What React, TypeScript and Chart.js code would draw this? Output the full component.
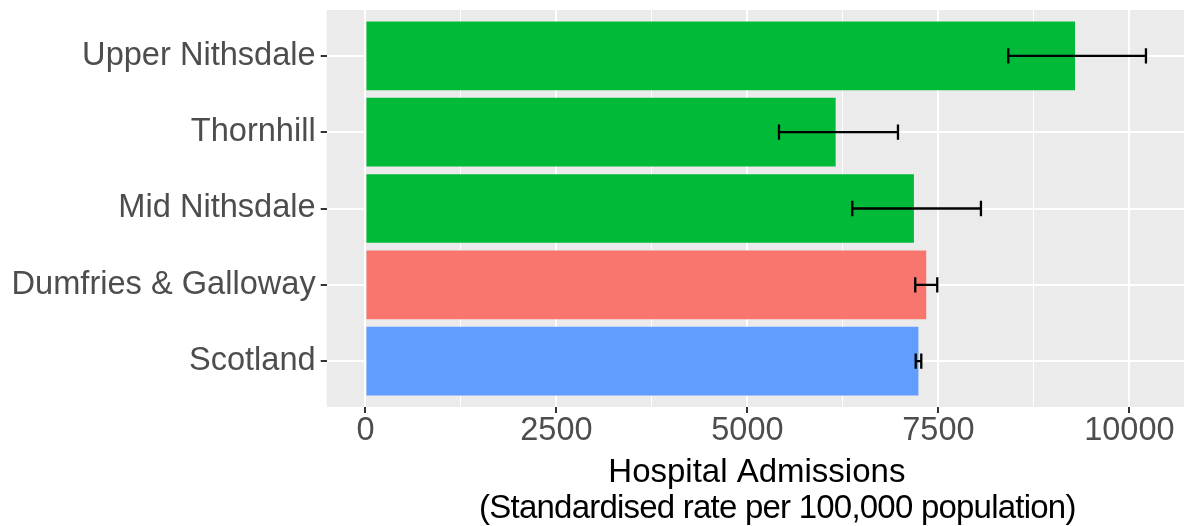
import React, { useEffect, useRef } from "react";
import { Chart, registerables } from "chart.js";

Chart.register(...registerables);

// Areas, listed top to bottom
const categories = [
  "Upper Nithsdale",
  "Thornhill",
  "Mid Nithsdale",
  "Dumfries & Galloway",
  "Scotland",
];

// Standardised admission rate per 100,000 population
const rates = [9288, 6155, 7180, 7341, 7238];
// 95% confidence limits
const lowerCI = [8415, 5413, 6373, 7197, 7203];
const upperCI = [10217, 6971, 8057, 7485, 7276];

const barColors = ["#00BA38", "#00BA38", "#00BA38", "#F8766D", "#619CFF"];

const majorTicks = [0, 2500, 5000, 7500, 10000];
const minorTicks = [1250, 3750, 6250, 8750];

const xTitle = ["Hospital Admissions", "(Standardised rate per 100,000 population)"];

const FONT = "'Liberation Sans', Arial, Helvetica, sans-serif";

const panelBackground = {
  id: "panelBackground",
  beforeDraw(chart: any) {
    const { ctx, chartArea } = chart;
    ctx.save();
    ctx.fillStyle = "#EBEBEB";
    ctx.fillRect(chartArea.left, chartArea.top, chartArea.right - chartArea.left, chartArea.bottom - chartArea.top);
    ctx.restore();
  },
};

const errorBars = {
  id: "errorBars",
  afterDatasetsDraw(chart: any) {
    const { ctx, scales } = chart;
    const xs = scales.x;
    const ys = scales.y;
    ctx.save();
    ctx.strokeStyle = "#000000";
    ctx.lineWidth = 2.3;
    categories.forEach((_, i) => {
      const yc = ys.getPixelForValue(i + 1);
      const half = Math.abs(ys.getPixelForValue(i + 1.1) - yc);
      const x0 = xs.getPixelForValue(lowerCI[i]);
      const x1 = xs.getPixelForValue(upperCI[i]);
      ctx.beginPath();
      ctx.moveTo(x0, yc);
      ctx.lineTo(x1, yc);
      ctx.moveTo(x0, yc - half);
      ctx.lineTo(x0, yc + half);
      ctx.moveTo(x1, yc - half);
      ctx.lineTo(x1, yc + half);
      ctx.stroke();
    });
    ctx.restore();
  },
};

// Two-line axis title under the x axis
const axisTitle = {
  id: "axisTitle",
  afterDraw(chart: any) {
    const { ctx, chartArea, height } = chart;
    const cx = (chartArea.left + chartArea.right) / 2;
    ctx.save();
    ctx.fillStyle = "#000000";
    ctx.font = `33px ${FONT}`;
    ctx.textAlign = "center";
    ctx.textBaseline = "alphabetic";
    ctx.fillText(xTitle[0], cx + 1.5, height - 44.5);
    (ctx as any).letterSpacing = "-0.78px";
    ctx.fillText(xTitle[1], cx + 22, height - 8);
    ctx.restore();
  },
};

export default function App() {
  const canvasRef = useRef<HTMLCanvasElement | null>(null);

  useEffect(() => {
    if (!canvasRef.current) return;
    const allX = [...majorTicks, ...minorTicks].sort((a, b) => a - b);
    const chart = new Chart(canvasRef.current, {
      type: "bar",
      data: {
        datasets: [
          {
            data: rates.map((v, i) => ({ x: v, y: i + 1 })),
            backgroundColor: barColors,
            borderWidth: 0,
            barPercentage: 0.9,
            categoryPercentage: 1,
          },
        ],
      },
      options: {
        indexAxis: "y",
        animation: false,
        responsive: false,
        devicePixelRatio: 1,
        layout: { padding: { top: 10, left: 0, right: 0, bottom: 0 } },
        plugins: {
          legend: { display: false },
          tooltip: { enabled: false },
        },
        scales: {
          x: {
            type: "linear",
            position: "bottom",
            min: -507,
            max: 10715,
            afterBuildTicks: (scale: any) => {
              scale.ticks = allX.map((v) => ({ value: v }));
            },
            afterFit: (scale: any) => {
              scale.height = 119;
              scale.paddingLeft = 0;
              scale.paddingRight = 0;
            },
            border: { display: false },
            grid: {
              color: "#FFFFFF",
              lineWidth: (c: any) => (c.tick && c.tick.value % 2500 === 0 ? 2 : 1),
              tickColor: (c: any) => (c.tick && c.tick.value % 2500 === 0 ? "#333333" : "rgba(0,0,0,0)"),
              tickLength: 6,
              tickWidth: 2,
            },
            ticks: {
              autoSkip: false,
              maxRotation: 0,
              padding: 2,
              color: "#4D4D4D",
              font: { family: FONT, size: 32.5, lineHeight: 1 },
              callback: (v: any) => (majorTicks.includes(Number(v)) ? String(v) : ""),
            },
          },
          y: {
            type: "linear",
            reverse: true,
            offset: false,
            min: 0.4,
            max: 5.6,
            afterBuildTicks: (scale: any) => {
              scale.ticks = categories.map((_, i) => ({ value: i + 1 }));
            },
            afterFit: (scale: any) => {
              scale.width = 326.7;
              scale.paddingTop = 0;
              scale.paddingBottom = 0;
            },
            border: { display: false },
            grid: {
              offset: false,
              color: "#FFFFFF",
              lineWidth: 2,
              tickColor: "#333333",
              tickLength: 6,
              tickWidth: 2,
            },
            ticks: {
              autoSkip: false,
              padding: 5,
              color: "#4D4D4D",
              font: { family: FONT, size: 32.6, lineHeight: 1 },
              callback: (v: any) => categories[Number(v) - 1] ?? "",
            },
          },
        },
      },
      plugins: [panelBackground, errorBars, axisTitle],
    } as any);
    return () => chart.destroy();
  }, []);

  return (
    <div style={{ position: "fixed", left: 0, top: 0, width: 1184, height: 526, background: "#FFFFFF" }}>
      <canvas ref={canvasRef} width={1184} height={526} style={{ display: "block", width: 1184, height: 526 }} />
    </div>
  );
}
